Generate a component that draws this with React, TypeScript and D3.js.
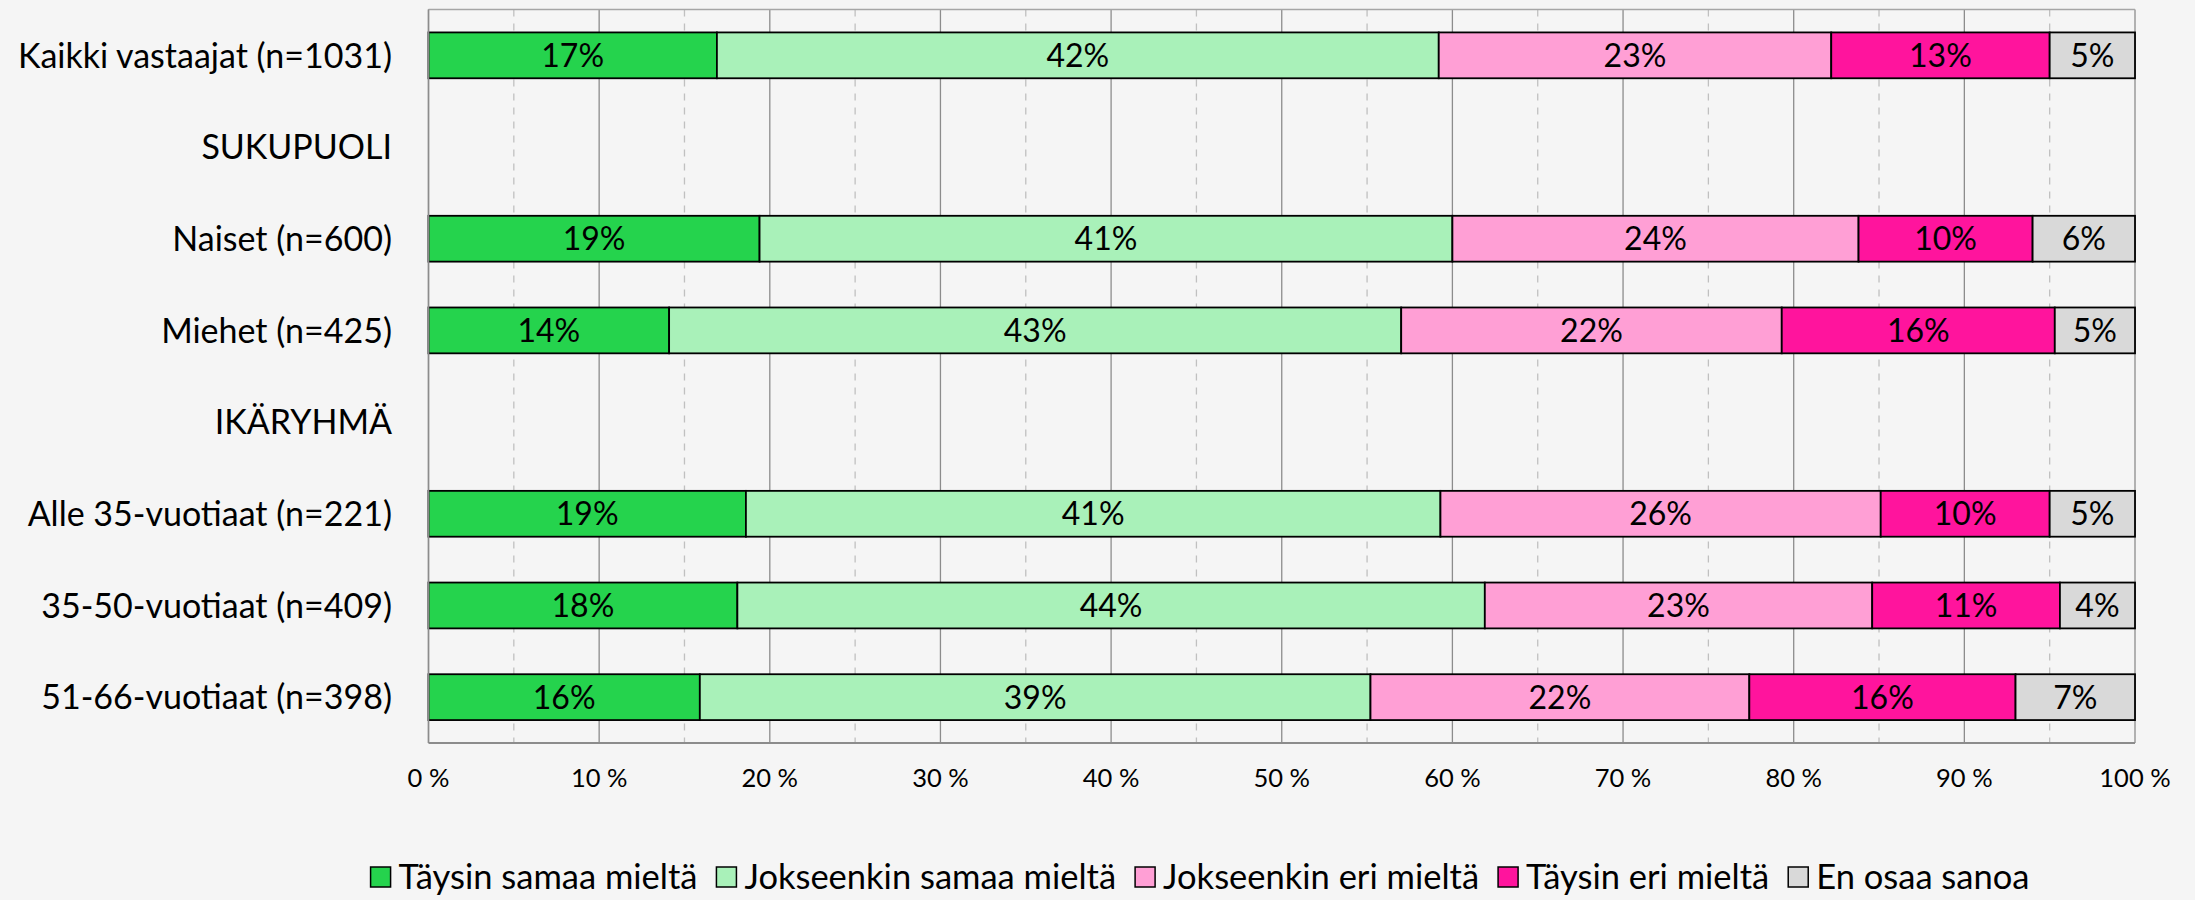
import React, { useEffect, useRef } from "react";
import * as d3 from "d3";

const categories = [
  "Kaikki vastaajat (n=1031)",
  "SUKUPUOLI",
  "Naiset (n=600)",
  "Miehet (n=425)",
  "IKÄRYHMÄ",
  "Alle 35-vuotiaat (n=221)",
  "35-50-vuotiaat (n=409)",
  "51-66-vuotiaat (n=398)",
];

const seriesNames = [
  "Täysin samaa mieltä",
  "Jokseenkin samaa mieltä",
  "Jokseenkin eri mieltä",
  "Täysin eri mieltä",
  "En osaa sanoa",
];

const seriesColors = ["#25d34d", "#a9f1b9", "#ff9fd5", "#ff149d", "#d9d9d9"];

const taysinSamaa = [16.9, null, 19.4, 14.1, null, 18.6, 18.1, 15.9];
const jokseenkinSamaa = [42.3, null, 40.6, 42.9, null, 40.7, 43.8, 39.3];
const jokseenkinEri = [23.0, null, 23.8, 22.3, null, 25.8, 22.7, 22.2];
const taysinEri = [12.8, null, 10.2, 16.0, null, 9.9, 11.0, 15.6];
const enOsaa = [5.0, null, 6.0, 4.7, null, 5.0, 4.4, 7.0];

const seriesValues = [taysinSamaa, jokseenkinSamaa, jokseenkinEri, taysinEri, enOsaa];

const xTicks = [0, 10, 20, 30, 40, 50, 60, 70, 80, 90, 100];
const xMinorTicks = [5, 15, 25, 35, 45, 55, 65, 75, 85, 95];

const W = 2195;
const H = 900;
const FONT = "Lato, Carlito, 'Open Sans', sans-serif";

export default function App() {
  const ref = useRef<SVGSVGElement | null>(null);

  useEffect(() => {
    const svg = d3.select(ref.current);
    svg.selectAll("*").remove();

    const left = 428.5;
    const right = 2135;
    const top = 9.5;
    const bottom = 743;

    svg.append("rect").attr("width", W).attr("height", H).attr("fill", "#f5f5f5");

    const x = d3.scaleLinear().domain([0, 100]).range([left, right]);
    const y = d3
      .scaleBand<string>()
      .domain(categories)
      .range([top, bottom])
      .paddingInner(0.5)
      .paddingOuter(0.25);

    const g = svg.append("g");

    g.selectAll("line.minor")
      .data(xMinorTicks)
      .join("line")
      .attr("class", "minor")
      .attr("x1", (d) => x(d))
      .attr("x2", (d) => x(d))
      .attr("y1", top)
      .attr("y2", bottom)
      .attr("stroke", "#c0c0c0")
      .attr("stroke-width", 1.3)
      .attr("stroke-dasharray", "7,7");

    g.selectAll("line.major")
      .data(xTicks)
      .join("line")
      .attr("class", "major")
      .attr("x1", (d) => x(d))
      .attr("x2", (d) => x(d))
      .attr("y1", top)
      .attr("y2", bottom)
      .attr("stroke", "#8c8c8c")
      .attr("stroke-width", 1.3);

    g.append("line")
      .attr("x1", left)
      .attr("x2", right)
      .attr("y1", top)
      .attr("y2", top)
      .attr("stroke", "#a6a6a6")
      .attr("stroke-width", 1.3);

    const rows = categories.map((c, i) => {
      const o: any = { cat: c };
      seriesNames.forEach((s, j) => {
        o[s] = seriesValues[j][i] ?? 0;
      });
      o.has = seriesValues[0][i] != null;
      return o;
    });
    const stack = d3.stack<any>().keys(seriesNames);
    const stacked = stack(rows.filter((r) => r.has));

    const layers = g
      .selectAll("g.layer")
      .data(stacked)
      .join("g")
      .attr("class", "layer")
      .attr("fill", (_d, i) => seriesColors[i]);

    layers
      .selectAll("rect")
      .data((d) => d)
      .join("rect")
      .attr("x", (d) => x(d[0]))
      .attr("width", (d) => x(d[1]) - x(d[0]))
      .attr("y", (d) => y(d.data.cat) as number)
      .attr("height", y.bandwidth())
      .attr("stroke", "#000")
      .attr("stroke-width", 1.8);

    layers
      .selectAll("text")
      .data((d) => d.map((p) => ({ p, key: d.key })))
      .join("text")
      .attr("x", (d) => (x(d.p[0]) + x(d.p[1])) / 2)
      .attr("y", (d) => (y(d.p.data.cat) as number) + y.bandwidth() / 2)
      .attr("dy", "0.36em")
      .attr("text-anchor", "middle")
      .attr("fill", "#000")
      .attr("font-family", FONT)
      .attr("font-size", 32)
      .text((d) => Math.round(d.p[1] - d.p[0]) + "%");

    g.append("line")
      .attr("x1", left)
      .attr("x2", left)
      .attr("y1", top)
      .attr("y2", bottom)
      .attr("stroke", "#8c8c8c")
      .attr("stroke-width", 1.5);
    g.append("line")
      .attr("x1", left)
      .attr("x2", right)
      .attr("y1", bottom)
      .attr("y2", bottom)
      .attr("stroke", "#8c8c8c")
      .attr("stroke-width", 2);

    g.selectAll("text.cat")
      .data(categories)
      .join("text")
      .attr("class", "cat")
      .attr("x", 392)
      .attr("y", (d) => (y(d) as number) + y.bandwidth() / 2)
      .attr("dy", "0.36em")
      .attr("text-anchor", "end")
      .attr("fill", "#000")
      .attr("font-family", FONT)
      .attr("font-size", 34)
      .text((d) => d);

    g.selectAll("text.tick")
      .data(xTicks)
      .join("text")
      .attr("class", "tick")
      .attr("x", (d) => x(d))
      .attr("y", 787)
      .attr("text-anchor", "middle")
      .attr("fill", "#000")
      .attr("font-family", FONT)
      .attr("font-size", 25.5)
      .text((d) => d + " %");

    const legendCy = 877;
    const legend = svg.append("g");
    const items = legend.selectAll("g").data(seriesNames).join("g");
    items
      .append("rect")
      .attr("width", 20)
      .attr("height", 20)
      .attr("y", legendCy - 10)
      .attr("fill", (_d, i) => seriesColors[i])
      .attr("stroke", "#000")
      .attr("stroke-width", 1.5);
    items
      .append("text")
      .attr("x", 28)
      .attr("y", legendCy)
      .attr("dy", "0.36em")
      .attr("fill", "#000")
      .attr("font-family", FONT)
      .attr("font-size", 34.5)
      .text((d) => d);
    const widths: number[] = [];
    items.each(function () {
      const t = d3.select(this).select("text").node() as SVGTextElement;
      widths.push(28 + t.getComputedTextLength());
    });
    const gap = 19;
    const total = d3.sum(widths) + gap * (widths.length - 1);
    let cx = 1200 - total / 2;
    items.attr("transform", (_d, i) => {
      const tx = cx;
      cx += widths[i] + gap;
      return `translate(${tx},0)`;
    });
  }, []);

  return (
    <div style={{ position: "absolute", left: 0, top: 0 }}>
      <svg ref={ref} width={W} height={H} style={{ display: "block" }} />
    </div>
  );
}
